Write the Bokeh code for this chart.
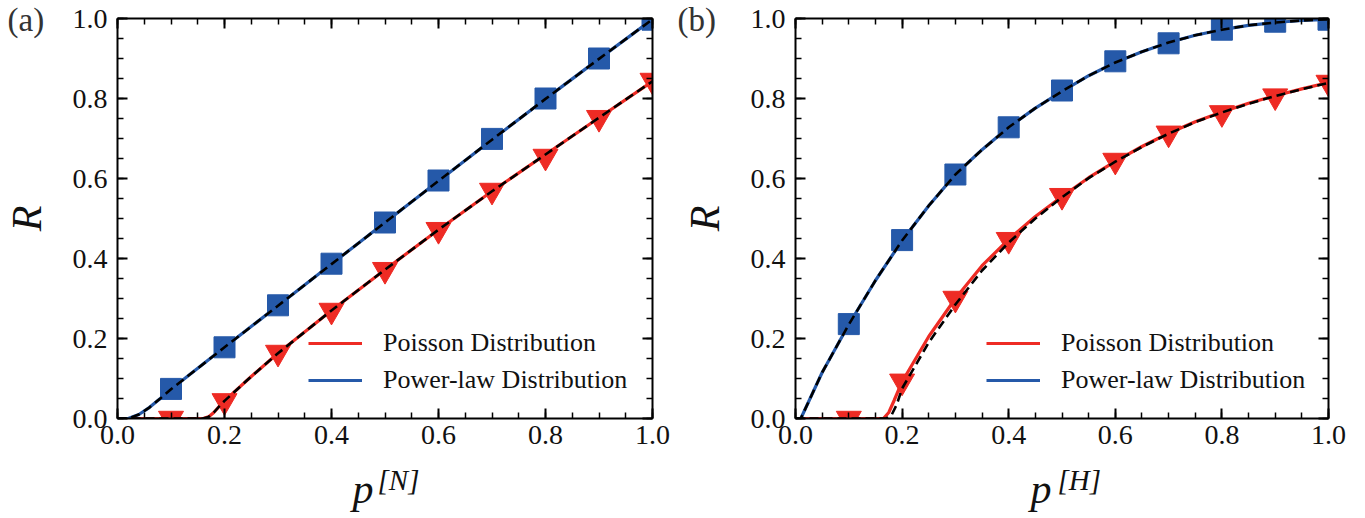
from bokeh.plotting import figure
from bokeh.models import (FixedTicker, LinearAxis, Legend, LegendItem, Title,
                          CustomJSTickFormatter, PrintfTickFormatter, Range1d)
from bokeh.layouts import row
from bokeh.embed import file_html
from bokeh.resources import INLINE

RED = "#EE2B24"
BLUE = "#2559A9"
FONT = "Liberation Serif"

MAJOR_TICKS = [0.0, 0.2, 0.4, 0.6, 0.8, 1.0]
MINOR_TICKS = [0.0, 0.05, 0.1, 0.15, 0.2, 0.25, 0.3, 0.35, 0.4, 0.45, 0.5,
               0.55, 0.6, 0.65, 0.7, 0.75, 0.8, 0.85, 0.9, 0.95, 1.0]

# ---------- panel (a) ----------
a_pts_x = [0.1, 0.2, 0.3, 0.4, 0.5, 0.6, 0.7, 0.8, 0.9, 1.0]
a_pow_pts = [0.074, 0.178, 0.283, 0.387, 0.490, 0.595, 0.699, 0.800, 0.900, 0.997]
a_poi_pts = [0.0, 0.044, 0.165, 0.270, 0.372, 0.472, 0.570, 0.655, 0.752, 0.845]

a_pow_x = [0.0, 0.02, 0.04, 0.06, 0.08, 0.1, 0.2, 0.3, 0.4, 0.5, 0.6, 0.7, 0.8, 0.9, 1.0]
a_pow_y = [0.0, 0.0, 0.01, 0.028, 0.05, 0.073, 0.178, 0.282, 0.386, 0.49, 0.594, 0.697, 0.799, 0.899, 0.998]
a_poi_x = [0.0, 0.1, 0.16, 0.17, 0.18, 0.19, 0.2, 0.25, 0.3, 0.4, 0.5, 0.6, 0.7, 0.8, 0.9, 1.0]
a_poi_y = [0.0, 0.0, 0.0, 0.004, 0.015, 0.03, 0.044, 0.105, 0.163, 0.27, 0.372, 0.472, 0.568, 0.66, 0.752, 0.843]
a_th_pow_x = a_pow_x
a_th_pow_y = a_pow_y
a_th_poi_x = a_poi_x
a_th_poi_y = a_poi_y

# ---------- panel (b) ----------
b_pts_x = [0.1, 0.2, 0.3, 0.4, 0.5, 0.6, 0.7, 0.8, 0.9, 1.0]
b_pow_pts = [0.236, 0.446, 0.610, 0.728, 0.820, 0.893, 0.938, 0.972, 0.992, 0.997]
b_poi_pts = [0.0, 0.093, 0.300, 0.447, 0.557, 0.645, 0.713, 0.764, 0.806, 0.840]

b_pow_x = [0.0, 0.01, 0.05, 0.1, 0.15, 0.2, 0.25, 0.3, 0.35, 0.4, 0.45, 0.5, 0.55,
           0.6, 0.65, 0.7, 0.75, 0.8, 0.85, 0.9, 0.95, 1.0]
b_pow_y = [0.0, 0.0, 0.115, 0.235, 0.345, 0.445, 0.532, 0.61, 0.672, 0.728, 0.776, 0.818,
           0.857, 0.89, 0.917, 0.94, 0.958, 0.972, 0.983, 0.99, 0.995, 0.998]
b_poi_x = [0.0, 0.1, 0.165, 0.175, 0.185, 0.2, 0.25, 0.3, 0.35, 0.4, 0.45, 0.5, 0.55,
           0.6, 0.65, 0.7, 0.75, 0.8, 0.85, 0.9, 0.95, 1.0]
b_poi_y = [0.0, 0.0, 0.0, 0.015, 0.045, 0.092, 0.205, 0.3, 0.382, 0.448, 0.505, 0.555,
           0.602, 0.643, 0.68, 0.713, 0.742, 0.766, 0.788, 0.807, 0.824, 0.84]
b_th_pow_x = b_pow_x
b_th_pow_y = b_pow_y
b_th_poi_x = [0.0, 0.1, 0.17, 0.18, 0.19, 0.2, 0.25, 0.3, 0.35, 0.4, 0.45, 0.5, 0.55,
              0.6, 0.65, 0.7, 0.75, 0.8, 0.85, 0.9, 0.95, 1.0]
b_th_poi_y = [0.0, 0.0, 0.0, 0.008, 0.035, 0.075, 0.19, 0.285, 0.37, 0.44, 0.5, 0.553,
              0.601, 0.642, 0.679, 0.712, 0.741, 0.765, 0.787, 0.806, 0.823, 0.839]


def style_axis(ax, labels=True, standoff=7):
    ax.ticker = FixedTicker(ticks=MAJOR_TICKS, minor_ticks=MINOR_TICKS)
    ax.axis_line_width = 2
    ax.axis_line_color = "black"
    ax.major_tick_in = 10
    ax.major_tick_out = 0
    ax.minor_tick_in = 6
    ax.minor_tick_out = 0
    ax.major_tick_line_width = 2
    ax.minor_tick_line_width = 1.5
    ax.major_tick_line_color = "black"
    ax.minor_tick_line_color = "black"
    if labels:
        ax.formatter = PrintfTickFormatter(format="%.1f")
        ax.major_label_text_font = FONT
        ax.major_label_text_font_size = "28px"
        ax.major_label_text_color = "#111111"
        ax.major_label_standoff = standoff
    else:
        ax.formatter = CustomJSTickFormatter(code="return ''")
        ax.major_label_text_font_size = "1px"
        ax.major_label_standoff = 0


def make_panel(tag, sup, border_left, border_right, width,
               pts_x, pow_pts, poi_pts, pow_x, pow_y, poi_x, poi_y,
               th_pow_x, th_pow_y, th_poi_x, th_poi_y, tag_off, p_off, sup_off):
    p = figure(width=width, height=516, output_backend="svg", toolbar_location=None,
               x_range=Range1d(0, 1), y_range=Range1d(0, 1), title=None,
               min_border_left=border_left, min_border_right=border_right,
               min_border_top=18, min_border_bottom=98)
    p.outline_line_color = None
    p.xgrid.visible = False
    p.ygrid.visible = False
    p.background_fill_color = "white"
    p.border_fill_color = "white"

    style_axis(p.xaxis[0], standoff=7)
    style_axis(p.yaxis[0], standoff=10)
    p.yaxis[0].axis_label = "R"
    p.yaxis[0].axis_label_text_font = FONT
    p.yaxis[0].axis_label_text_font_style = "italic"
    p.yaxis[0].axis_label_text_font_size = "42px"
    p.yaxis[0].axis_label_text_color = "#111111"
    p.yaxis[0].axis_label_standoff = 20

    top = LinearAxis()
    style_axis(top, labels=False)
    p.add_layout(top, "above")
    right = LinearAxis()
    style_axis(right, labels=False)
    p.add_layout(right, "right")

    red_line = p.line(poi_x, poi_y, line_color=RED, line_width=3.2)
    blue_line = p.line(pow_x, pow_y, line_color=BLUE, line_width=3.2)
    p.scatter(pts_x, pow_pts, marker="square", size=21, fill_color=BLUE, line_color=BLUE)
    p.scatter(pts_x, poi_pts, marker="inverted_triangle", size=25, fill_color=RED, line_color=RED)
    p.line(th_poi_x, th_poi_y, line_color="black", line_width=2.6, line_dash="9 5")
    p.line(th_pow_x, th_pow_y, line_color="black", line_width=2.6, line_dash="9 5")

    legend = Legend(items=[LegendItem(label="Poisson Distribution", renderers=[red_line]),
                           LegendItem(label="Power-law Distribution", renderers=[blue_line])],
                    location=(191, 23), glyph_width=54, glyph_height=30, label_height=30,
                    label_standoff=21, spacing=7, padding=0, margin=0,
                    border_line_color=None, background_fill_alpha=0,
                    label_text_font=FONT, label_text_font_size="26px",
                    label_text_color="#111111")
    p.add_layout(legend)

    # panel tag, e.g. "(a)"
    p.add_layout(Title(text=tag, align="left", offset=tag_off, vertical_align="bottom",
                       standoff=-38, text_font=FONT, text_font_size="33px",
                       text_font_style="normal", text_color="#333333"), "above")
    # x axis label: p^[N]
    p.add_layout(Title(text="[" + sup + "]", align="left", offset=sup_off, vertical_align="top",
                       standoff=34, text_font=FONT, text_font_size="29px",
                       text_font_style="italic", text_color="#111111"), "below")
    p.add_layout(Title(text="p", align="left", offset=p_off, vertical_align="top",
                       standoff=-98, text_font=FONT, text_font_size="42px",
                       text_font_style="italic", text_color="#111111"), "below")
    return p


pa = make_panel("(a)", "N", 117, 25, 677,
                a_pts_x, a_pow_pts, a_poi_pts, a_pow_x, a_pow_y, a_poi_x, a_poi_y,
                a_th_pow_x, a_th_pow_y, a_th_poi_x, a_th_poi_y,
                7 - 117, 352 - 117, 377 - 117)
pb = make_panel("(b)", "H", 118, 30, 681,
                b_pts_x, b_pow_pts, b_poi_pts, b_pow_x, b_pow_y, b_poi_x, b_poi_y,
                b_th_pow_x, b_th_pow_y, b_th_poi_x, b_th_poi_y,
                677 - 795, 1030 - 795, 1057 - 795)

layout = row(pa, pb)
open("out.html", "w").write(file_html(layout, INLINE))
